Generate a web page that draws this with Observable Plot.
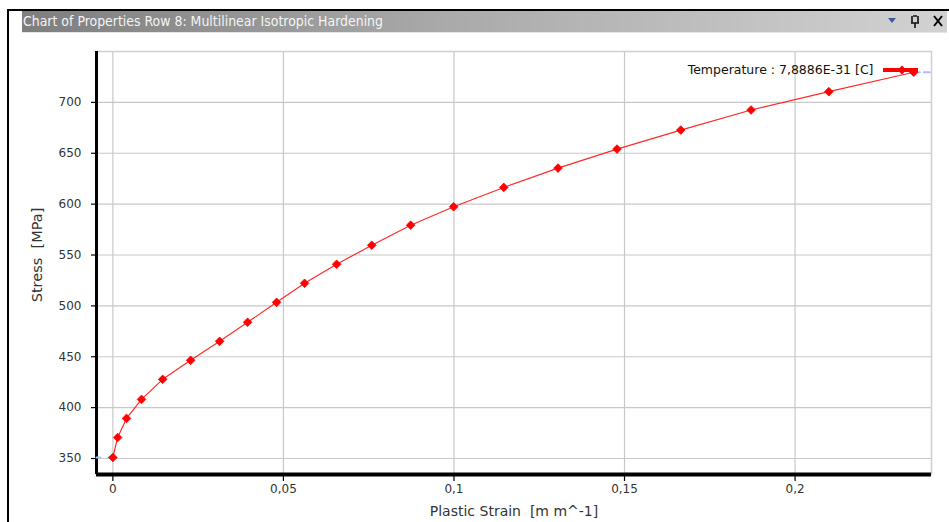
<!DOCTYPE html>
<html>
<head>
<meta charset="utf-8">
<script src="https://cdn.jsdelivr.net/npm/d3@7"></script>
<script src="https://cdn.jsdelivr.net/npm/@observablehq/plot@0.6"></script>
<style>
  html, body { margin: 0; padding: 0; background: #fff; }
  #wrap { position: relative; width: 949px; height: 522px; overflow: hidden; font-family: "DejaVu Sans", sans-serif; }
  #frameTop { position: absolute; left: 8px; top: 9px; width: 941px; height: 2px; background: #000; }
  #frameLeft { position: absolute; left: 7px; top: 9px; width: 2px; height: 513px; background: #000; }
  #titlebar { position: absolute; left: 22px; top: 11px; width: 925px; height: 21px;
    background: linear-gradient(to right, #7e7e7e 0%, #a9a9a9 45%, #d2d2d2 100%);
    border-bottom: 1px solid #e6e6e6; }
  #titlebar svg { position: absolute; left: 0; top: 0; }
  #plot { position: absolute; left: 0; top: 0; }
  #legend { position: absolute; left: 0; top: 0; pointer-events: none; }
</style>
</head>
<body>
<div id="wrap">
  <div id="frameTop"></div>
  <div id="frameLeft"></div>
  <div id="titlebar"></div>
  <div id="plot"></div>
  <div id="legend"></div>
</div>
<script>
// ---- data ----
const titleText = "Chart of Properties Row 8: Multilinear Isotropic Hardening";
const xLabel = "Plastic Strain  [m m^-1]";
const yLabel = "Stress  [MPa]";
const legendLabel = "Temperature : 7,8886E-31 [C]";
const strain = [0, 0.0014, 0.0040, 0.0084, 0.0146, 0.0228, 0.0313, 0.0395, 0.0480, 0.0562, 0.0656,
                0.0759, 0.0873, 0.0999, 0.1146, 0.1305, 0.1478, 0.1665, 0.1871, 0.2099, 0.2348];
const stress = [351, 370.7, 389.4, 408.1, 427.8, 446.5, 465.2, 483.9, 503.5, 522.2, 540.9,
                559.6, 579.3, 597.4, 616.4, 635.4, 654.1, 672.8, 692.5, 710.5, 729.6];
const xTicks = [0, 0.05, 0.1, 0.15, 0.2];
const yTicks = [350, 400, 450, 500, 550, 600, 650, 700];
const xDomain = [-0.0048, 0.2400];
const yDomain = [334.3, 750];

const pts = strain.map((x, i) => ({x, y: stress[i]}));
const first = pts[0], last = pts[pts.length - 1];
const extL = [{x: xDomain[0], y: first.y}, {x: first.x, y: first.y}];
const extR = [{x: last.x, y: last.y}, {x: xDomain[1], y: last.y}];
const fmt = d => String(d).replace(".", ",");

// ---- title bar ----
document.getElementById("titlebar").innerHTML = `
<svg width="925" height="21">
  <text x="1" y="15" fill="#f4f4f4" font-family="'Liberation Sans Narrow','DejaVu Sans Condensed','Liberation Sans',sans-serif"
        font-size="14" textLength="360" lengthAdjust="spacingAndGlyphs">${titleText}</text>
  <path d="M866,7 L874,7 L870,12 Z" fill="#3c5a9a"/>
  <g stroke="#111" stroke-width="1.6" fill="none">
    <path d="M890,5 L890,12 M896,5 L896,12 M889,12 L897,12 M893,12 L893,17 M891,5 L895,5"/>
  </g>
  <path d="M912,5 L920,15 M920,5 L912,15" stroke="#000" stroke-width="2"/>
</svg>`;

// ---- chart ----
const W = 949, H = 522;
const chart = Plot.plot({
  width: W,
  height: H,
  marginLeft: 96,
  marginRight: 18,
  marginTop: 51,
  marginBottom: 48,
  style: {fontFamily: "'DejaVu Sans', sans-serif", fontSize: "12px", color: "#333", background: "transparent"},
  x: {domain: xDomain, ticks: xTicks, tickFormat: fmt},
  y: {domain: yDomain, ticks: yTicks},
  marks: [
    Plot.gridX(xTicks, {stroke: "#c8c8c8", strokeOpacity: 1, strokeWidth: 1.2}),
    Plot.gridY(yTicks, {stroke: "#c8c8c8", strokeOpacity: 1, strokeWidth: 1.2}),
    Plot.frame({stroke: "#cfcfcf", strokeWidth: 1.5}),
    Plot.axisX(xTicks, {tickSize: 7, tickPadding: 3, tickFormat: fmt, fill: "#333", stroke: "#000", strokeWidth: 1.2, fontSize: 12, label: null}),
    Plot.axisY(yTicks, {tickSize: 5, tickPadding: 10, fill: "#333", stroke: "#000", strokeWidth: 1.2, fontSize: 12, label: null}),
    Plot.ruleY([yDomain[0]], {stroke: "#000", strokeWidth: 4}),
    Plot.ruleX([xDomain[0]], {stroke: "#000", strokeWidth: 3}),
    Plot.line(extL, {x: "x", y: "y", stroke: "#b4b8ff", strokeWidth: 2, strokeDasharray: "4 8"}),
    Plot.line(extR, {x: "x", y: "y", stroke: "#b4b8ff", strokeWidth: 2, strokeDasharray: "6 4"}),
    Plot.line(pts, {x: "x", y: "y", stroke: "#ff2a2a", strokeWidth: 1.2}),
    Plot.dot(pts, {x: "x", y: "y", symbol: "diamond2", r: 3.9, fill: "#ff0000", stroke: "#ff0000", strokeWidth: 0.8}),
    Plot.text([xLabel], {frameAnchor: "bottom", textAnchor: "middle", dy: 41, fill: "#333", fontSize: 14}),
    Plot.text([yLabel], {frameAnchor: "left", textAnchor: "middle", dx: -59, dy: -8, rotate: -90, fill: "#333", fontSize: 14.5}),
    Plot.text([legendLabel], {frameAnchor: "top-right", textAnchor: "end", dx: -58, dy: 14, fill: "#111", fontSize: 12.5})
  ]
});
document.getElementById("plot").appendChild(chart);

// ---- legend swatch ----
document.getElementById("legend").innerHTML = `
<svg width="949" height="522">
  <line x1="883" y1="70" x2="918" y2="70" stroke="#ff0000" stroke-width="4"/>
  <path d="M902,65.5 L906.5,70 L902,74.5 L897.5,70 Z" fill="#ff0000"/>
</svg>`;
</script>
</body>
</html>
